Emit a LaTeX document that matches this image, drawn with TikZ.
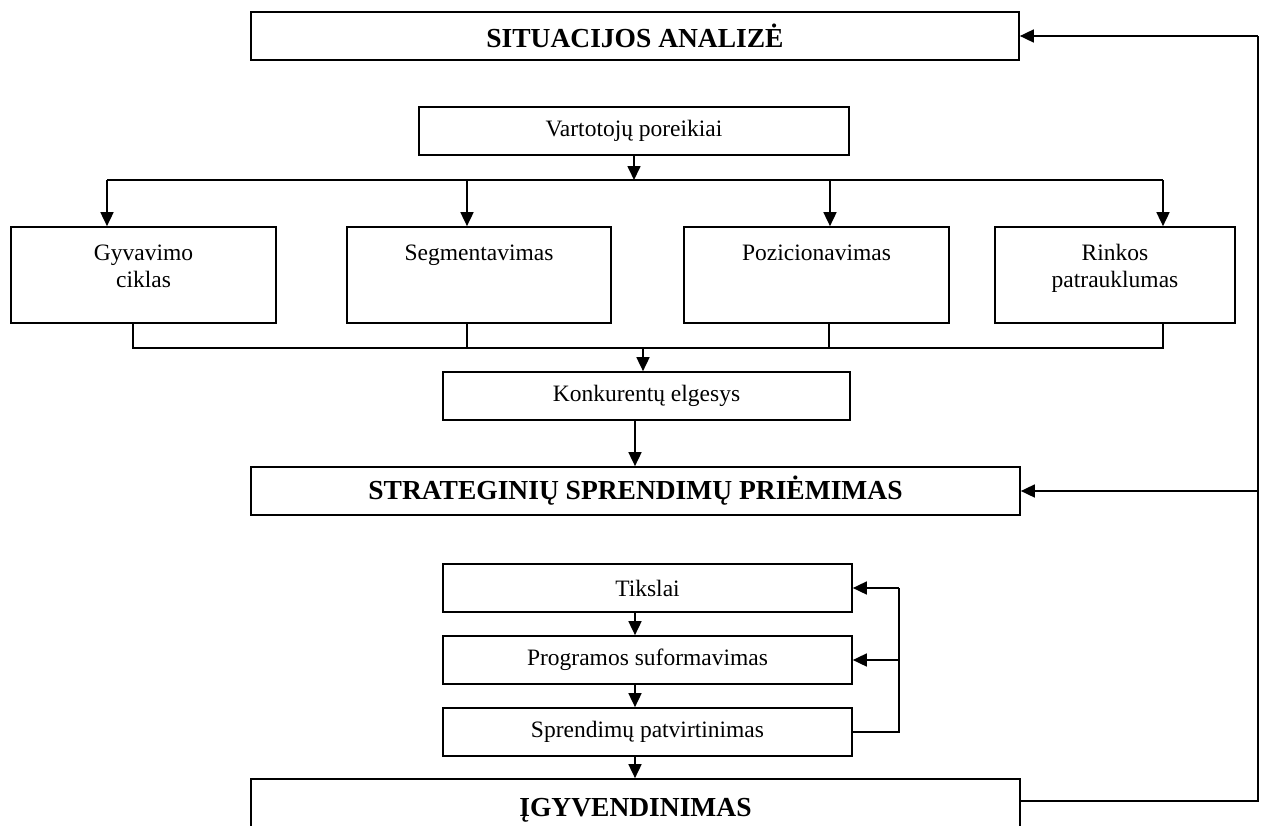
\documentclass[tikz,border=0pt]{standalone}
\usepackage{fontspec}
\setmainfont{Liberation Serif}
\usetikzlibrary{arrows.meta}
\begin{document}
\begin{tikzpicture}[x=1pt,y=-1pt,
  box/.style={draw, rectangle, inner sep=0pt, line width=1.7pt},
  lbl/.style={font=\fontsize{23.5}{27}\selectfont, inner sep=0pt},
  head/.style={font=\fontsize{27.5}{32}\selectfont\bfseries},
  wire/.style={line width=1.7pt},
  arr/.style={wire, -{Triangle[length=14pt,width=13pt]}}]
\useasboundingbox (0,0) rectangle (1264,825);
\clip (0,0) rectangle (1264,825);

% main stages
\node[box, head, minimum width=768, minimum height=48] (sit) at (635,36) {SITUACIJOS ANALIZĖ};
\node[box, head, minimum width=769, minimum height=48] (str) at (635.5,491) {STRATEGINIŲ SPRENDIMŲ PRIĖMIMAS};
\node[box, head, minimum width=769, minimum height=62] (igy) at (635.5,810) {ĮGYVENDINIMAS};

% analysis block
\node[box, lbl, minimum width=430, minimum height=48] (vart) at (634,131) {Vartotojų poreikiai};
\node[box, minimum width=265, minimum height=96] (gyv) at (143.5,275) {};
\node[box, minimum width=264, minimum height=96] (seg) at (479,275) {};
\node[box, minimum width=265, minimum height=96] (poz) at (816.5,275) {};
\node[box, minimum width=240, minimum height=96] (rin) at (1115,275) {};
\path (gyv.north) ++(0,34) node[lbl, anchor=base] (gyv1) {Gyvavimo}
      ++(0,27) node[lbl, anchor=base] (gyv2) {ciklas};
\path (seg.north) ++(0,34) node[lbl, anchor=base] (seg1) {Segmentavimas};
\path (poz.north) ++(0,34) node[lbl, anchor=base] (poz1) {Pozicionavimas};
\path (rin.north) ++(0,34) node[lbl, anchor=base] (rin1) {Rinkos}
      ++(0,27) node[lbl, anchor=base] (rin2) {patrauklumas};
\node[box, lbl, minimum width=407, minimum height=48] (konk) at (646.5,396) {Konkurentų elgesys};

% decision block
\node[box, lbl, minimum width=409, minimum height=48] (tik) at (647.5,588) {Tikslai};
\node[box, lbl, minimum width=409, minimum height=48] (prog) at (647.5,660) {Programos suformavimas};
\node[box, lbl, minimum width=409, minimum height=48] (spr) at (647.5,732) {Sprendimų patvirtinimas};

% distribution bus
\coordinate (bL) at (107,180);
\coordinate (bS) at (467,180);
\coordinate (bP) at (830,180);
\coordinate (bR) at (1163,180);
\draw[arr] (vart.south) -- (vart.south |- bL);
\draw[wire] (bL) -- (bR);
\draw[arr] (bL) -- (bL |- gyv.north);
\draw[arr] (bS) -- (bS |- seg.north);
\draw[arr] (bP) -- (bP |- poz.north);
\draw[arr] (bR) -- (bR |- rin.north);

% collecting bus
\coordinate (cG) at (133,348);
\coordinate (cS) at (467,348);
\coordinate (cP) at (829,348);
\coordinate (cR) at (1163,348);
\coordinate (cK) at (643,348);
\draw[wire] (cG |- gyv.south) -- (cG) -- (cR) -- (cR |- rin.south);
\draw[wire] (cS |- seg.south) -- (cS);
\draw[wire] (cP |- poz.south) -- (cP);
\draw[arr] (cK) -- (cK |- konk.north);

% vertical flow
\coordinate (mx) at (635,0);
\draw[arr] (konk.south -| mx) -- (str.north -| mx);
\draw[arr] (tik.south -| mx) -- (prog.north -| mx);
\draw[arr] (prog.south -| mx) -- (spr.north -| mx);
\draw[arr] (spr.south -| mx) -- (igy.north -| mx);

% inner feedback loop
\coordinate (fi) at (899,0);
\draw[wire] (spr.east) -- (spr.east -| fi) -- (tik.east -| fi);
\draw[arr] (tik.east -| fi) -- (tik.east);
\draw[arr] (prog.east -| fi) -- (prog.east);

% outer feedback loop
\coordinate (fo) at (1258,801);
\draw[wire] (igy.east |- fo) -- (fo) -- (fo |- sit.east);
\draw[arr] (fo |- sit.east) -- (sit.east);
\draw[arr] (fo |- str.east) -- (str.east);
\end{tikzpicture}
\end{document}
